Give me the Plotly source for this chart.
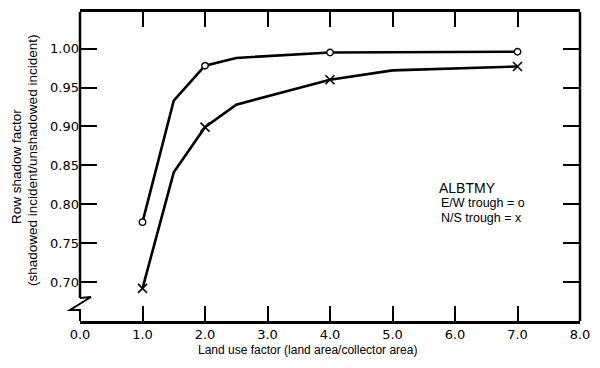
import plotly.graph_objects as go

# E/W trough (circles): line vertices and marked points
ew_line_x = [1.0, 1.5, 2.0, 2.5, 4.0, 7.0]
ew_line_y = [0.777, 0.933, 0.978, 0.988, 0.995, 0.996]
ew_mark_x = [1.0, 2.0, 4.0, 7.0]
ew_mark_y = [0.777, 0.978, 0.995, 0.996]

# N/S trough (crosses)
ns_line_x = [1.0, 1.5, 2.0, 2.5, 4.0, 5.0, 7.0]
ns_line_y = [0.692, 0.841, 0.899, 0.928, 0.960, 0.972, 0.977]
ns_mark_x = [1.0, 2.0, 4.0, 7.0]
ns_mark_y = [0.692, 0.899, 0.960, 0.977]

x_ticks = [0, 1, 2, 3, 4, 5, 6, 7, 8]
x_tick_labels = ["0.0", "1.0", "2.0", "3.0", "4.0", "5.0", "6.0", "7.0", "8.0"]
y_ticks = [0.70, 0.75, 0.80, 0.85, 0.90, 0.95, 1.00]
y_tick_labels = ["0.70", "0.75", "0.80", "0.85", "0.90", "0.95", "1.00"]

OFF = 8  # default page body margin
W, H = 600 - 2 * OFF, 368 - 2 * OFF
# plot area in page pixels: x 80..580, y 12..321
L, T = 80 - OFF, 12 - OFF
PW, PH = 500, 309
R = W - L - PW
B = H - T - PH


def px(x):
    return (x - OFF - L) / PW


def py(y):
    return (T + PH - (y - OFF)) / PH


fig = go.Figure()
fig.add_trace(go.Scatter(x=ew_line_x, y=ew_line_y, mode="lines",
                         line=dict(color="black", width=2.6), hoverinfo="skip"))
fig.add_trace(go.Scatter(x=ns_line_x, y=ns_line_y, mode="lines",
                         line=dict(color="black", width=2.6), hoverinfo="skip"))
fig.add_trace(go.Scatter(x=ew_mark_x, y=ew_mark_y, mode="markers",
                         marker=dict(symbol="circle", size=6.5, color="white",
                                     line=dict(color="black", width=1.4))))
fig.add_trace(go.Scatter(x=ns_mark_x, y=ns_mark_y, mode="markers",
                         marker=dict(symbol="x-thin", size=9,
                                     line=dict(color="black", width=1.6))))

tick_font = dict(family="DejaVu Sans", size=13, color="black")

fig.update_xaxes(range=[0, 8], tickvals=x_ticks, ticktext=x_tick_labels,
                 ticks="inside", ticklen=15, tickwidth=1.5, tickcolor="black",
                 showline=True, linecolor="black", linewidth=2.5, mirror="ticks",
                 showgrid=False, zeroline=False, tickfont=tick_font, automargin=False)
fig.update_yaxes(range=[0.65, 1.047], tickvals=y_ticks, ticktext=y_tick_labels,
                 ticks="inside", ticklen=17, tickwidth=1.5, tickcolor="black",
                 showline=False, mirror="ticks",
                 showgrid=False, zeroline=False, tickfont=tick_font, automargin=False)

shapes = []
# right border
shapes.append(dict(type="line", xref="paper", yref="paper", x0=1, x1=1, y0=0, y1=1,
                   line=dict(color="black", width=2.5)))
# left border with break
shapes.append(dict(type="line", xref="paper", yref="paper", x0=0, x1=0, y0=py(298), y1=1,
                   line=dict(color="black", width=2.5)))
brk = "M {a},{b} L {c},{d} L {e},{f} L {g},{h} L {i},{j}".format(
    a=px(80), b=py(298), c=px(91), d=py(297), e=px(70), f=py(310),
    g=px(80), h=py(310), i=px(80), j=py(321))
shapes.append(dict(type="path", xref="paper", yref="paper", path=brk,
                   line=dict(color="black", width=2)))

txt = dict(family="Liberation Sans", color="black")
annotations = [
    dict(text="Land use factor (land area/collector area)", x=px(307), y=py(350),
         xref="paper", yref="paper", showarrow=False, xanchor="center", yanchor="middle",
         font=dict(size=12, **txt)),
    dict(text="Row shadow factor",
         x=px(17), y=py(167), xref="paper", yref="paper", showarrow=False,
         textangle=-90, xanchor="center", yanchor="middle",
         font=dict(size=13.5, **txt)),
    dict(text="(shadowed incident/unshadowed incident)",
         x=px(32), y=py(161), xref="paper", yref="paper", showarrow=False,
         textangle=-90, xanchor="center", yanchor="middle",
         font=dict(size=13.5, **txt)),
    dict(text="ALBTMY", x=px(467), y=py(188), xref="paper", yref="paper",
         showarrow=False, xanchor="center", yanchor="middle",
         font=dict(size=14, **txt)),
    dict(text="E/W trough = o", x=px(439), y=py(203), xref="paper", yref="paper",
         showarrow=False, xanchor="left", yanchor="middle",
         font=dict(size=12.5, **txt)),
    dict(text="N/S trough = x", x=px(439), y=py(218), xref="paper", yref="paper",
         showarrow=False, xanchor="left", yanchor="middle",
         font=dict(size=12.5, **txt)),
]

fig.update_layout(width=W, height=H, margin=dict(l=L, r=R, t=T, b=B),
                  paper_bgcolor="white", plot_bgcolor="white", showlegend=False,
                  shapes=shapes, annotations=annotations)

fig.write_html("out.html")
